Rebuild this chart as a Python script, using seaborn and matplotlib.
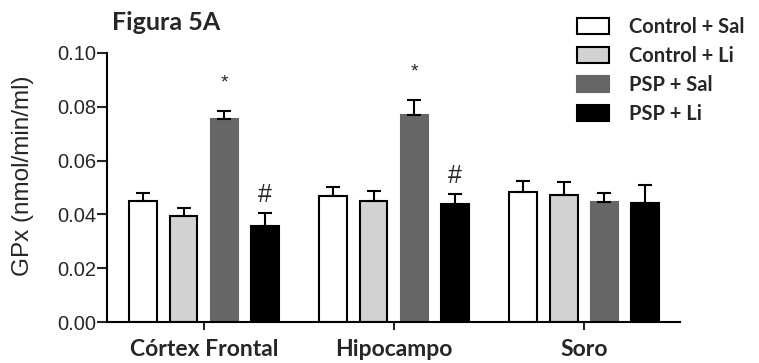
import matplotlib
matplotlib.use("Agg")
import matplotlib.pyplot as plt
from matplotlib.patches import Patch
import seaborn as sns
import pandas as pd
import numpy as np

regions = ["Córtex Frontal", "Hipocampo", "Soro"]
groups = ["Control + Sal", "Control + Li", "PSP + Sal", "PSP + Li"]
colors = ["#ffffff", "#d2d2d2", "#666666", "#000000"]

# mean values per group (order: Córtex, Hipocampo, Soro)
ctrl_sal = [0.0451, 0.0470, 0.0484]
ctrl_li = [0.0395, 0.0451, 0.0471]
psp_sal = [0.0755, 0.0770, 0.0446]
psp_li = [0.0358, 0.0439, 0.0443]

# SEM (upper error bars)
ctrl_sal_sem = [0.0027, 0.0033, 0.0040]
ctrl_li_sem = [0.0028, 0.0036, 0.0050]
psp_sal_sem = [0.0029, 0.0055, 0.0035]
psp_li_sem = [0.0046, 0.0036, 0.0066]

# significance marks per group per region
psp_sal_marks = ["*", "*", ""]
psp_li_marks = ["#", "#", ""]

means = [ctrl_sal, ctrl_li, psp_sal, psp_li]
sems = [ctrl_sal_sem, ctrl_li_sem, psp_sal_sem, psp_li_sem]
marks = [["", "", ""], ["", "", ""], psp_sal_marks, psp_li_marks]

rows = []
for g, vals in zip(groups, means):
    for r, v in zip(regions, vals):
        rows.append({"region": r, "group": g, "value": v})
df = pd.DataFrame(rows)

sns.set_style("white")
plt.rcParams["font.family"] = ["Liberation Sans", "DejaVu Sans"]

fig = plt.figure(figsize=(7.59, 3.63), dpi=100)
ax = fig.add_axes([107 / 759, 1 - 322 / 363, (680 - 107) / 759, (322 - 53) / 363])

sns.barplot(data=df, x="region", y="value", hue="group", order=regions,
            hue_order=groups, palette=colors, width=0.86, gap=0.32,
            edgecolor="black", linewidth=1.5, errorbar=None, legend=False, ax=ax)

bar_conts = list(ax.containers)
for i, cont in enumerate(bar_conts):
    xs = [b.get_x() + b.get_width() / 2 for b in cont]
    hs = [b.get_height() for b in cont]
    if i == 2:
        for b in cont:
            b.set_edgecolor(colors[2])
    ax.errorbar(xs, hs, yerr=[np.zeros(len(hs)), sems[i]], fmt="none",
                ecolor="black", elinewidth=1.5, capsize=5, capthick=1.5, zorder=1)
    for x, h, s, m in zip(xs, hs, sems[i], marks[i]):
        if m == "*":
            ax.text(x, h + s + 0.0105, m, ha="center", va="center", fontsize=14)
        elif m == "#":
            ax.text(x, h + s + 0.0068, m, ha="center", va="center", fontsize=18)

ax.set_ylim(0, 0.10)
ax.set_xlim(-0.5105, 2.505)
ax.set_yticks([0.0, 0.02, 0.04, 0.06, 0.08, 0.10])
ax.set_yticklabels(["0.00", "0.02", "0.04", "0.06", "0.08", "0.10"], fontsize=14.5)
ax.set_xticks([0, 1, 2])
ax.set_xticklabels(regions, fontsize=16.5, fontweight="bold", family=["Lato", "DejaVu Sans"])
ax.tick_params(axis="y", direction="out", length=7, width=1.5, pad=1, left=True)
ax.tick_params(axis="x", direction="out", length=6, width=1.5, pad=6, bottom=True)
ax.set_xlabel("")
ax.set_ylabel("GPx (nmol/min/ml)", fontsize=17.5)
ax.yaxis.set_label_coords(-0.127, 0.545)
for s in ["top", "right"]:
    ax.spines[s].set_visible(False)
for s in ["left", "bottom"]:
    ax.spines[s].set_linewidth(1.5)
    ax.spines[s].set_color("black")

fig.text(112 / 759, 1 - 23 / 363, "Figura 5A", fontsize=18, fontweight="bold",
         family=["Lato", "DejaVu Sans"], ha="left", va="center")

handles = [Patch(facecolor=c, edgecolor=("black" if i < 2 else c), linewidth=1.5)
           for i, c in enumerate(colors)]
fig.legend(handles, groups, loc="upper left", bbox_to_anchor=(577 / 759, 1 - 17 / 363),
           frameon=False, borderpad=0, borderaxespad=0, handlelength=1.6,
           handleheight=0.8, handletextpad=1.0, labelspacing=0.45,
           prop={"family": ["Lato", "DejaVu Sans"], "weight": "bold", "size": 14.5})

fig.savefig("out.png", dpi=100)
